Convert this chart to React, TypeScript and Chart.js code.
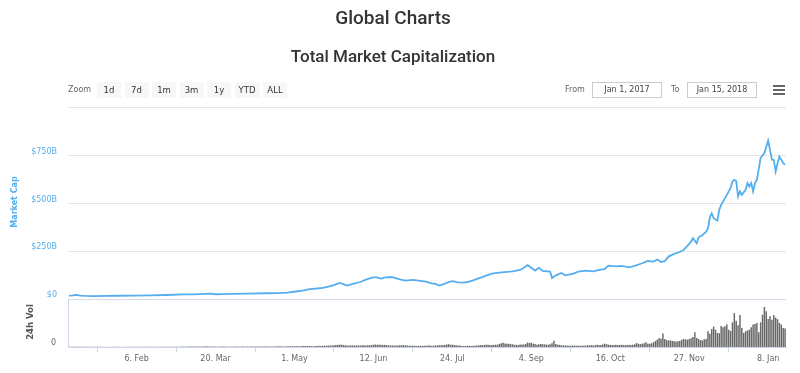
import React, { useEffect, useRef } from 'react';
import { Chart, registerables } from 'chart.js';
Chart.register(...registerables);

// x positions are day numbers counted from 1 Jan 2017
const dateTickDays = [36, 78, 120, 162, 204, 246, 288, 330, 372];
const dateTickLabels = ['6. Feb', '20. Mar', '1. May', '12. Jun', '24. Jul', '4. Sep', '16. Oct', '27. Nov', '8. Jan'];

const capTicks = [0, 250, 500, 750, 1000];
const capTickLabels = ['$0', '$250B', '$500B', '$750B', ''];
const volTicks = [0];
const volTickLabels = ['0'];

const zoomButtons = ['1d', '7d', '1m', '3m', '1y', 'YTD', 'ALL'];
const fromDate = 'Jan 1, 2017';
const toDate = 'Jan 15, 2018';

// Total market cap, billions USD
const capDays = [
  0, 2, 4, 6, 9, 13, 20, 25, 35, 43,
  52, 61, 66, 70, 75, 78, 82, 87, 95, 105,
  112, 116, 120, 125, 128, 132, 135, 138, 141, 144,
  146, 148, 151, 155, 158, 160, 162, 164, 166, 169,
  172, 176, 179, 183, 186, 190, 193, 195, 197, 199,
  202, 204, 207, 210, 212, 215, 218, 222, 225, 229,
  233, 236, 240, 242, 244, 246, 248, 250, 252, 256,
  257, 259, 262, 264, 268, 271, 275, 279, 282, 285,
  287, 291, 294, 298, 301, 305, 308, 311, 313, 315,
  317, 319, 322, 325, 327, 329, 331, 332, 334, 335,
  337, 339, 340, 341, 342, 343, 345, 346, 347, 348,
  350, 352, 353, 354, 355, 356, 357, 358, 360, 361,
  362, 363, 364, 365, 366, 368, 370, 372, 373, 374,
  375, 376, 377, 378, 380, 381,
];
const capValues = [
  17.7, 19, 22, 18, 16, 15.5, 16, 17, 18, 19.5,
  21, 24, 24, 26, 28, 25, 26, 27, 28, 30,
  31, 33, 38, 45, 52, 55, 58, 65, 73, 84,
  78, 70, 79, 89, 101, 108, 113, 113, 107, 115,
  114, 103, 96, 100, 96, 91, 82, 79, 70, 77,
  89, 93, 87, 86, 89, 98, 108, 122, 133, 138,
  142, 145, 152, 164, 177, 164, 149, 163, 147, 143,
  110, 124, 136, 124, 132, 143, 149, 145, 152, 156,
  175, 171, 173, 166, 173, 187, 199, 196, 207, 194,
  198, 222, 236, 246, 257, 278, 300, 318, 292, 323,
  334, 353, 371, 428, 449, 423, 411, 467, 493, 510,
  545, 580, 615, 624, 618, 537, 563, 545, 572, 607,
  589, 607, 563, 607, 624, 738, 764, 830, 781, 729,
  728, 668, 711, 746, 711, 703,
];

// 24h volume, billions USD, one value per day starting 1 Jan 2017
const volValues = [
  0.2, 0.3, 0.3, 0.4, 0.5, 0.6, 0.5, 0.4, 0.3, 0.3, 0.3, 0.4, 0.3, 0.3, 0.2, 0.2, 0.2, 0.3, 0.2, 0.2,
  0.2, 0.2, 0.2, 0.3, 0.2, 0.2, 0.2, 0.2, 0.2, 0.2, 0.2, 0.3, 0.3, 0.2, 0.2, 0.3, 0.3, 0.3, 0.2, 0.3,
  0.3, 0.3, 0.3, 0.3, 0.3, 0.3, 0.3, 0.3, 0.3, 0.3, 0.4, 0.4, 0.5, 0.4, 0.4, 0.4, 0.4, 0.5, 0.4, 0.5,
  0.5, 0.6, 0.5, 0.6, 0.6, 0.7, 0.7, 0.7, 0.8, 0.7, 0.6, 0.8, 0.9, 1.0, 0.8, 0.7, 0.8, 0.7, 0.6, 0.6,
  0.6, 0.6, 0.6, 0.6, 0.5, 0.5, 0.5, 0.6, 0.6, 0.6, 0.6, 0.5, 0.6, 0.6, 0.6, 0.7, 0.7, 0.7, 0.7, 0.8,
  0.8, 0.7, 0.8, 0.9, 0.9, 0.9, 0.8, 0.8, 0.8, 0.9, 1.0, 0.9, 1.0, 1.1, 0.9, 0.9, 1.0, 1.1, 1.2, 1.1,
  1.4, 1.3, 1.2, 1.3, 1.6, 1.4, 1.5, 1.7, 1.4, 1.3, 1.3, 1.5, 1.6, 1.8, 1.7, 1.9, 2.0, 2.2, 2.2, 2.4,
  2.5, 2.8, 3.0, 3.4, 3.5, 3.6, 3.0, 2.6, 2.3, 2.5, 2.4, 2.3, 2.5, 2.4, 2.6, 2.2, 2.6, 2.6, 2.5, 2.7,
  2.7, 3.1, 3.6, 3.8, 3.5, 3.7, 3.4, 3.2, 3.3, 3.0, 2.6, 2.4, 2.3, 2.5, 2.4, 2.3, 2.6, 2.8, 3.0, 2.5,
  2.3, 2.0, 1.9, 1.8, 1.8, 1.6, 1.8, 1.7, 1.8, 2.0, 2.1, 2.2, 2.3, 1.8, 2.1, 2.3, 2.5, 2.6, 2.7, 3.0,
  3.3, 3.8, 4.4, 3.5, 3.7, 3.0, 2.8, 2.4, 2.2, 1.7, 1.5, 1.6, 1.8, 1.7, 1.7, 2.0, 2.0, 2.4, 2.6, 3.0,
  2.9, 3.2, 3.6, 3.5, 3.2, 3.0, 3.3, 3.6, 3.6, 4.8, 6.0, 6.6, 5.3, 4.9, 5.0, 4.5, 4.2, 3.5, 3.4, 3.3,
  3.8, 4.0, 3.9, 4.8, 7.0, 6.2, 6.8, 5.0, 4.6, 3.6, 4.4, 4.7, 4.5, 4.1, 3.8, 3.5, 4.2, 6.0, 9.8, 4.6,
  3.6, 3.4, 2.9, 2.5, 2.4, 2.2, 1.9, 2.0, 2.2, 2.3, 2.1, 2.0, 1.9, 2.1, 2.3, 2.4, 2.6, 2.5, 2.8, 2.6,
  2.6, 3.4, 3.2, 3.0, 4.0, 5.2, 4.4, 3.6, 3.3, 3.2, 3.0, 3.5, 3.1, 3.3, 3.4, 3.1, 2.9, 3.2, 3.6, 3.0,
  3.6, 4.2, 6.2, 5.0, 4.4, 5.2, 5.9, 7.3, 4.9, 5.2, 5.8, 7.3, 9.4, 11.5, 14.0, 12.9, 21.0, 12.5, 10.8, 10.4,
  10.4, 9.6, 8.9, 8.7, 8.9, 9.5, 11.2, 12.5, 11.8, 11.5, 12.4, 13.5, 15.6, 23.0, 14.2, 12.5, 10.8, 10.4, 12.3, 12.5,
  24.5, 20.8, 28.0, 32.0, 27.0, 22.0, 21.5, 33.0, 31.0, 32.5, 35.0, 27.0, 25.0, 38.5, 53.0, 41.0, 34.0, 50.0, 29.7, 22.0,
  24.5, 26.0, 27.0, 31.0, 35.0, 36.0, 37.5, 23.0, 38.5, 50.5, 62.5, 55.7, 43.7, 48.0, 42.7, 50.0, 46.0, 43.7, 37.5, 35.0, 29.7, 29.0,
];

const BLUE = '#55aeee';
const SMALL_FONT = '"DejaVu Sans", sans-serif';

const paneBorder = {
  id: 'paneBorder',
  afterDatasetsDraw(chart: any) {
    const { ctx, chartArea, scales } = chart;
    const y0 = scales.y.getPixelForValue(0);
    ctx.save();
    ctx.strokeStyle = '#ccd6eb';
    ctx.lineWidth = 1;
    ctx.beginPath();
    ctx.moveTo(chartArea.left + 0.5, y0);
    ctx.lineTo(chartArea.left + 0.5, chartArea.bottom);
    ctx.stroke();
    ctx.restore();
  },
};

function ChartCanvas() {
  const ref = useRef<HTMLCanvasElement | null>(null);
  useEffect(() => {
    if (!ref.current) return;
    const capPoints = capDays.map((d, i) => ({ x: d, y: capValues[i] }));
    const volPoints = volValues.map((v, i) => ({ x: i, y: v }));
    // market cap pane: 0..1000 over upper 191px; volume pane: lower 48px
    const capMin = -1000 * 48 / 191;
    const volMax = 75 * 239 / 48;
    const chart = new Chart(ref.current, {
      type: 'bar',
      data: {
        datasets: [
          {
            type: 'line',
            label: 'Market Cap',
            data: capPoints,
            yAxisID: 'y',
            borderColor: BLUE,
            borderWidth: 1.8,
            pointRadius: 0,
            tension: 0,
            order: 0,
          } as any,
          {
            type: 'bar',
            label: '24h Vol',
            data: volPoints,
            yAxisID: 'yv',
            backgroundColor: '#686868',
            barPercentage: 1,
            categoryPercentage: 0.78,
            order: 1,
          } as any,
        ],
      },
      plugins: [paneBorder],
      options: {
        animation: false,
        responsive: false,
        devicePixelRatio: 1,
        layout: { padding: { left: 0, right: 14, top: 0, bottom: 0 } },
        plugins: {
          legend: { display: false },
          tooltip: { enabled: false },
          title: {
            display: true,
            text: 'Global Charts',
            color: '#333',
            font: { family: 'Roboto, sans-serif', size: 19, weight: '500' as any },
            padding: { top: 8, bottom: 0 },
          },
          subtitle: {
            display: true,
            text: 'Total Market Capitalization',
            color: '#333',
            font: { family: 'Roboto, sans-serif', size: 17, weight: '500' as any },
            padding: { top: 17, bottom: 39.8 },
          },
        },
        scales: {
          x: {
            type: 'linear',
            min: -0.5,
            max: 381.5,
            offset: false,
            afterFit: (s: any) => { s.height = 26; },
            afterBuildTicks: (s: any) => { s.ticks = dateTickDays.map((v) => ({ value: v })); },
            grid: { display: true, drawOnChartArea: false, drawTicks: true, tickLength: 5, color: '#ccd6eb' },
            border: { display: true, color: '#ccd6eb' },
            ticks: {
              autoSkip: false,
              maxRotation: 0,
              padding: 2,
              color: '#666',
              font: { family: SMALL_FONT, size: 8 },
              callback: (v: any) => dateTickLabels[dateTickDays.indexOf(v)] ?? '',
            },
          },
          y: {
            type: 'linear',
            position: 'left',
            weight: 1,
            min: capMin,
            max: 1000,
            afterFit: (s: any) => { s.width = 68; },
            afterBuildTicks: (s: any) => { s.ticks = capTicks.map((v) => ({ value: v })); },
            grid: {
              display: true,
              drawTicks: false,
              color: (c: any) => (c.tick && c.tick.value === 0 ? '#d3dbe9' : '#e6e6e6'),
            },
            border: { display: false },
            ticks: {
              padding: 11,
              labelOffset: -4,
              color: BLUE,
              font: { family: SMALL_FONT, size: 8 },
              callback: (v: any) => capTickLabels[capTicks.indexOf(v)] ?? '',
            },
          },
          yv: {
            type: 'linear',
            position: 'left',
            weight: 0,
            min: 0,
            max: volMax,
            afterFit: (s: any) => { s.width = 0; },
            afterBuildTicks: (s: any) => { s.ticks = volTicks.map((v) => ({ value: v })); },
            grid: { display: false, drawTicks: false },
            border: { display: false },
            ticks: {
              mirror: true,
              crossAlign: 'near',
              padding: -17,
              labelOffset: -4,
              color: '#666',
              font: { family: SMALL_FONT, size: 8 },
              callback: (v: any) => volTickLabels[volTicks.indexOf(v)] ?? '',
            },
          },
        },
      },
    } as any);
    return () => chart.destroy();
  }, []);
  return <canvas ref={ref} width={800} height={373} style={{ position: 'absolute', left: 0, top: 0 }} />;
}

export default function App() {
  const small: React.CSSProperties = { fontFamily: SMALL_FONT, fontSize: 8, position: 'absolute' };
  return (
    <div style={{ position: 'absolute', left: 0, top: 0, width: 800, height: 373, background: '#fff', overflow: 'hidden' }}>
      <ChartCanvas />
      <div style={{ ...small, left: 68, top: 82, height: 16, lineHeight: '16px', color: '#666' }}>Zoom</div>
      <div style={{ position: 'absolute', left: 97, top: 82, display: 'flex', gap: 3.5 }}>
        {zoomButtons.map((b) => (
          <div key={b} style={{ width: b === 'YTD' ? 25 : 24, height: 16, lineHeight: '16px', background: '#f7f7f7', textAlign: 'center', fontFamily: SMALL_FONT, fontSize: 8.5, color: '#333' }}>{b}</div>
        ))}
      </div>
      <div style={{ ...small, left: 565, top: 82, height: 16, lineHeight: '16px', color: '#666' }}>From</div>
      <div style={{ ...small, left: 592, top: 82, width: 68, height: 14, lineHeight: '14px', border: '1px solid #ccc', textAlign: 'center', color: '#444' }}>{fromDate}</div>
      <div style={{ ...small, left: 671, top: 82, height: 16, lineHeight: '16px', color: '#666' }}>To</div>
      <div style={{ ...small, left: 687, top: 82, width: 68, height: 14, lineHeight: '14px', border: '1px solid #ccc', textAlign: 'center', color: '#444' }}>{toDate}</div>
      <div style={{ position: 'absolute', left: 773, top: 85, width: 12 }}>
        {[0, 1, 2].map((i) => (
          <div key={i} style={{ height: 2, background: '#666', marginBottom: i < 2 ? 2 : 0 }} />
        ))}
      </div>
      <div style={{ position: 'absolute', left: 14, top: 202, transform: 'translate(-50%, -50%) rotate(-90deg)', fontFamily: SMALL_FONT, fontWeight: 'bold', fontSize: 8, color: BLUE, whiteSpace: 'nowrap' }}>Market Cap</div>
      <div style={{ position: 'absolute', left: 30, top: 322, transform: 'translate(-50%, -50%) rotate(-90deg)', fontFamily: SMALL_FONT, fontWeight: 'bold', fontSize: 8.5, color: '#555', whiteSpace: 'nowrap' }}>24h Vol</div>
    </div>
  );
}
